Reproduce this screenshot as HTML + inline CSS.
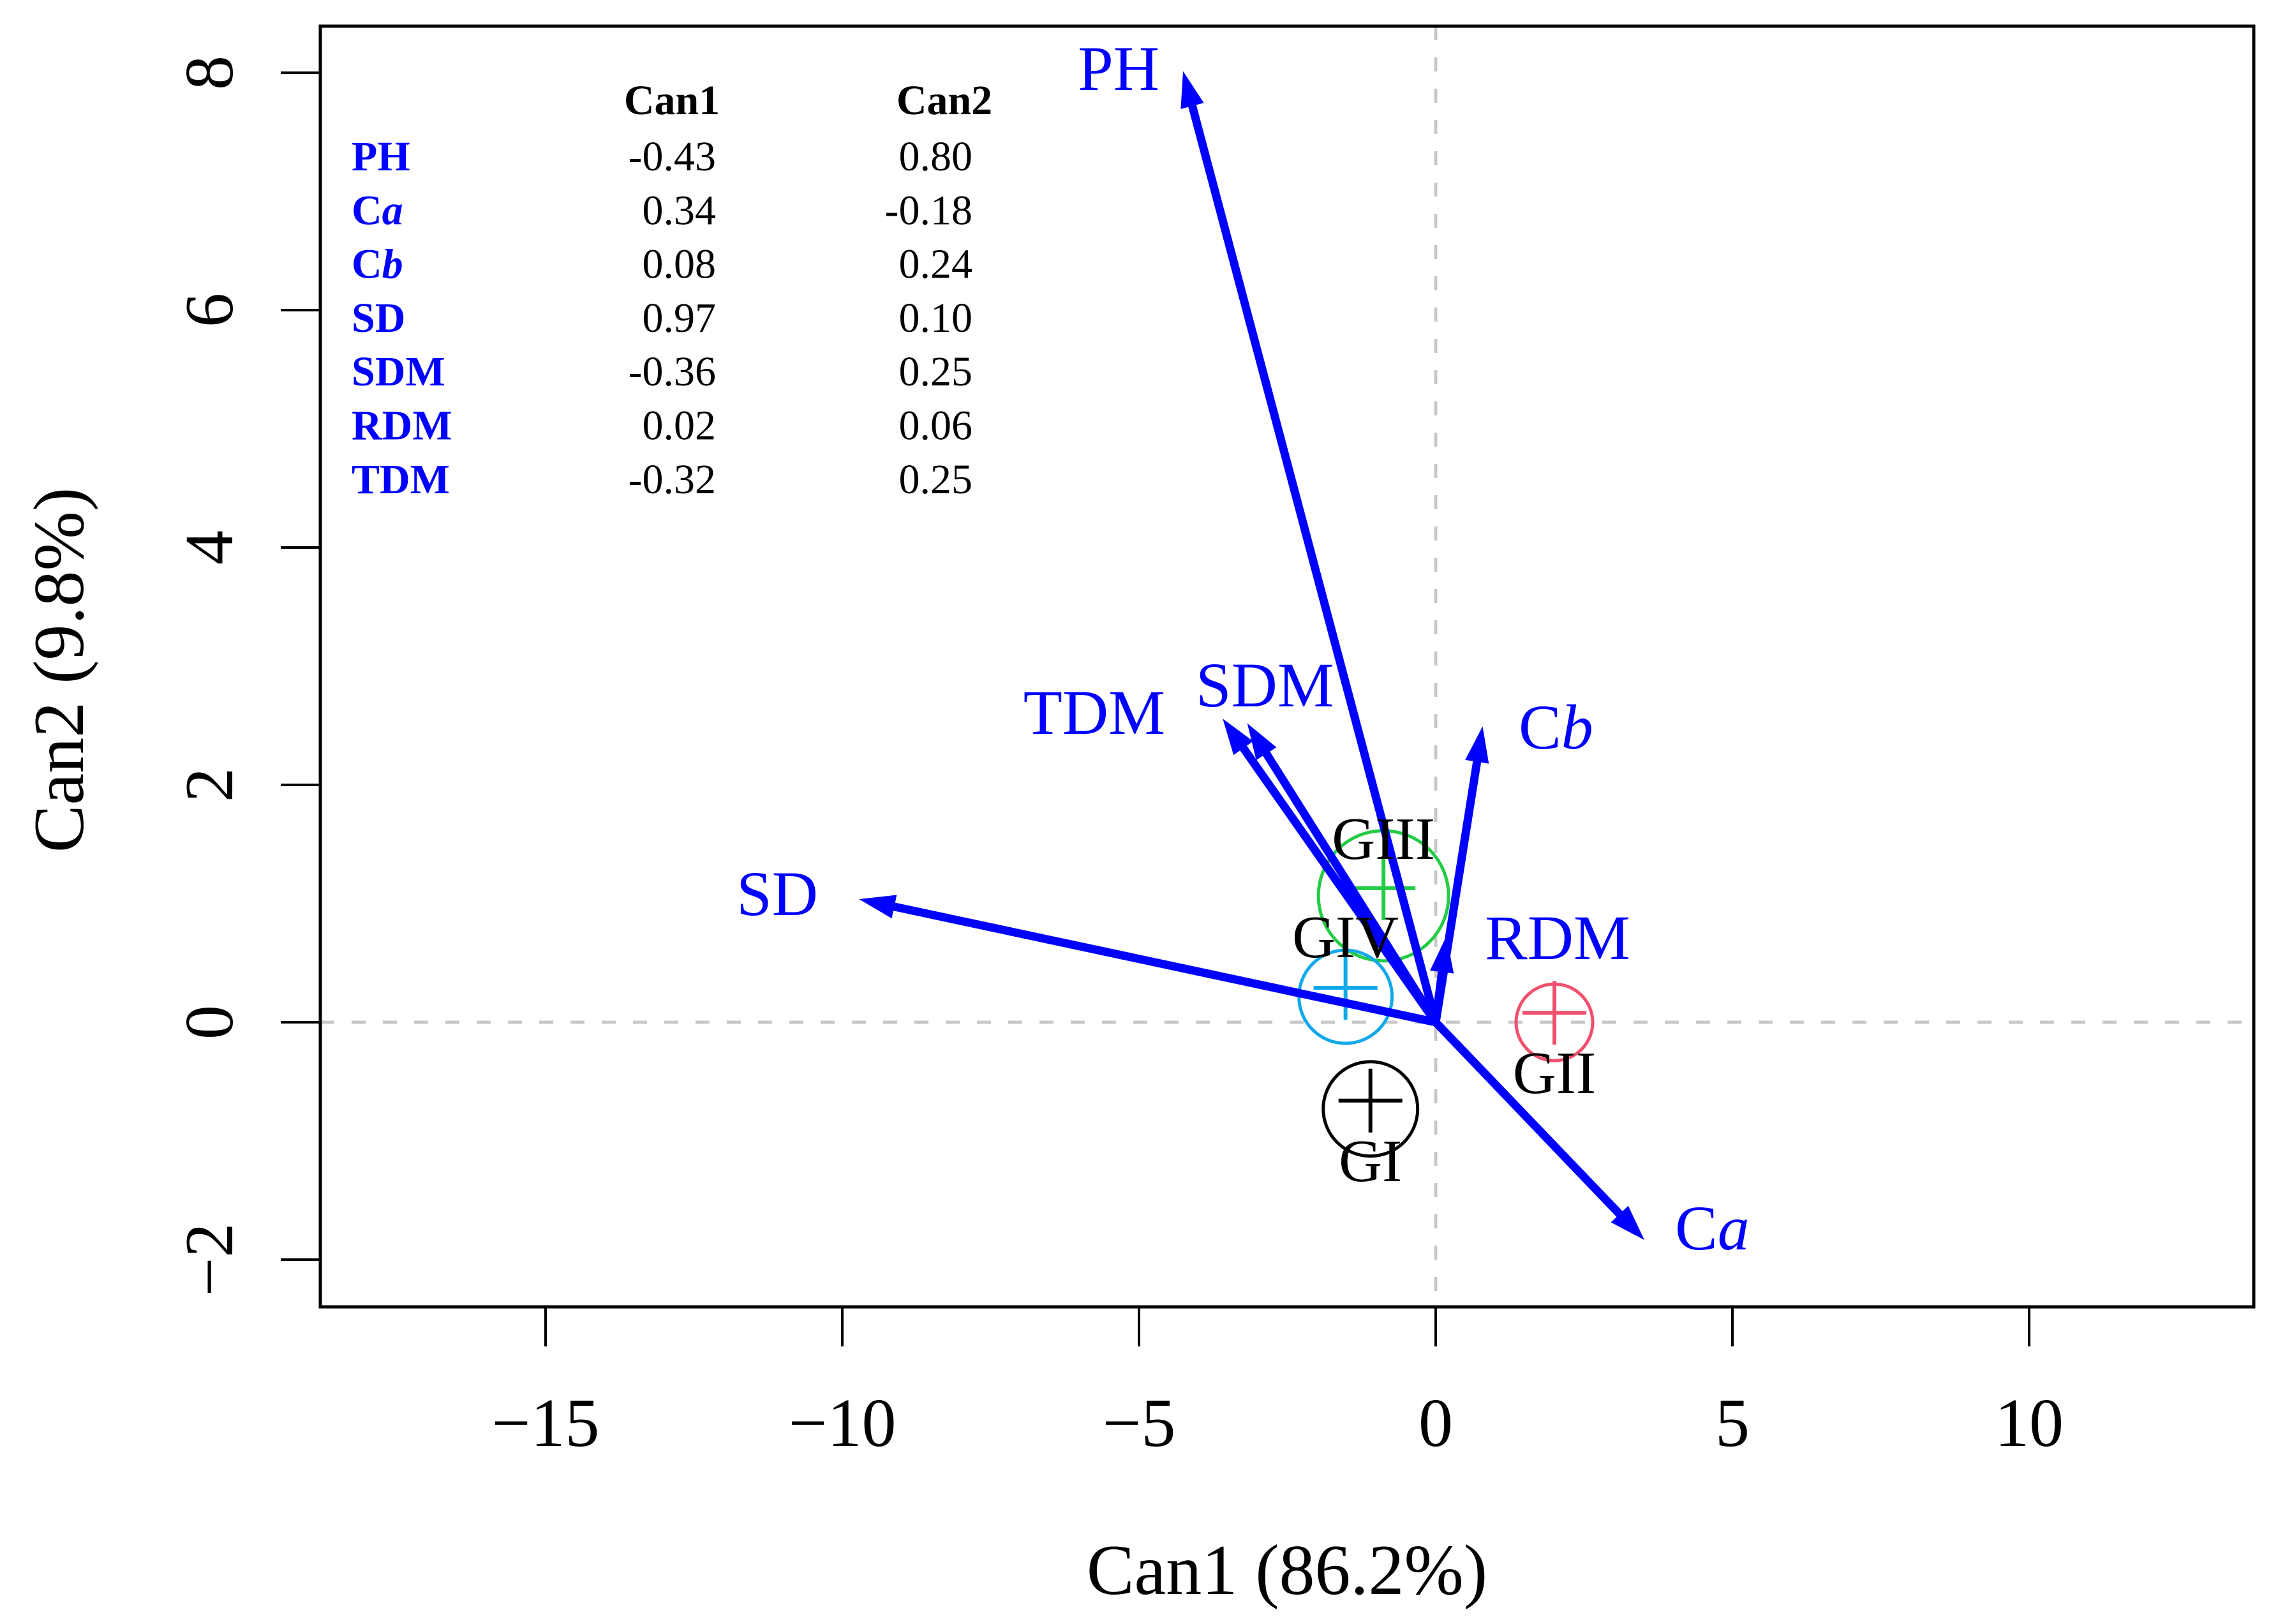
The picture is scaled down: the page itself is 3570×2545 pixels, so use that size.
<!DOCTYPE html>
<html><head><meta charset="utf-8"><style>
html,body{margin:0;padding:0;background:#fff;}
svg{display:block;font-family:"Liberation Serif",serif;}
</style></head><body>
<svg id="chart" xmlns="http://www.w3.org/2000/svg" width="3570" height="2545" viewBox="0 0 3570 2545">
<rect x="0" y="0" width="3570" height="2545" fill="#fff"/>
<g id="g"></g>
</svg>
<script>
// ---- data ----
const xTicks = [-15, -10, -5, 0, 5, 10];
const yTicks = [-2, 0, 2, 4, 6, 8];
const varNames = ["PH", "Ca", "Cb", "SD", "SDM", "RDM", "TDM"];
const arrowX = [-4.24, 3.47, 0.78, -9.65, -3.14, 0.17, -3.55];
const arrowY = [7.98, -1.81, 2.46, 1.03, 2.49, 0.69, 2.53];
const groupNames = ["GI", "GII", "GIII", "GIV"];
const groupX = [-1.1, 2.0, -0.88, -1.52];
const groupY = [-0.66, 0.08, 1.13, 0.29];
const groupColors = ["#000000", "#f0506e", "#22cc44", "#10a8e8"];
const tableCan1 = ["-0.43", "0.34", "0.08", "0.97", "-0.36", "0.02", "-0.32"];
const tableCan2 = ["0.80", "-0.18", "0.24", "0.10", "0.25", "0.06", "0.25"];

// ---- scales ----
const X0 = 2250, Y0 = 1602, KX = 93, KY = 186;
const sx = v => X0 + v * KX;
const sy = v => Y0 - v * KY;
const NS = "http://www.w3.org/2000/svg";
const g = document.getElementById("g");
function mk(tag, attrs, parent) {
  const e = document.createElementNS(NS, tag);
  for (const k in attrs) e.setAttribute(k, attrs[k]);
  (parent || g).appendChild(e);
  return e;
}
const L = 502, R = 3532, T = 41, B = 2048;

let e = mk("line", {x1: L, x2: R, y1: sy(0), y2: sy(0), stroke: "#c8c8c8", "stroke-width": 5, "stroke-dasharray": "22,27"});


e = mk("line", {x1: sx(0), x2: sx(0), y1: T, y2: B, stroke: "#c8c8c8", "stroke-width": 5, "stroke-dasharray": "22,27"});



e = mk("rect", {x: L, y: T, width: R - L, height: B - T, fill: "none", stroke: "#000", "stroke-width": 5});



xTicks.forEach(t => {
  let l = mk("line", {x1: sx(t), x2: sx(t), y1: B, y2: B + 62, stroke: "#000", "stroke-width": 4});
  
  
  let tx = mk("text", {x: sx(t), y: 2266, "text-anchor": "middle", "font-size": 108});
  tx.textContent = t < 0 ? "\u2212" + Math.abs(t) : String(t);
  
  
});
yTicks.forEach(t => {
  let l = mk("line", {x1: L, x2: L - 62, y1: sy(t), y2: sy(t), stroke: "#000", "stroke-width": 4});
  
  
  let tx = mk("text", {x: 0, y: 0, "text-anchor": "middle", "font-size": 108, transform: `translate(364,${sy(t)}) rotate(-90)`});
  tx.textContent = t < 0 ? "\u2212" + Math.abs(t) : String(t);
  
  
});
e = mk("text", {x: 2017, y: 2498, "text-anchor": "middle", "font-size": 112});
e.textContent = "Can1 (86.2%)";


e = mk("text", {x: 0, y: 0, "text-anchor": "middle", "font-size": 112, transform: "translate(130,1050) rotate(-90)"});
e.textContent = "Can2 (9.8%)";



const circOff = [13, 15, 12, 14];
const circR = [74, 60, 102, 73];
const labelDY = [126, 126, -46, -48];
groupNames.forEach((n, i) => {
  const cx = sx(groupX[i]), cy = sy(groupY[i]);
  let c = mk("circle", {cx: cx, cy: cy + circOff[i], r: circR[i], fill: "none", stroke: groupColors[i], "stroke-width": 5});
  
  
  let p = mk("path", {d: `M${cx - 50},${cy}H${cx + 50}M${cx},${cy - 50}V${cy + 50}`, stroke: groupColors[i], "stroke-width": 6, fill: "none"});
  
  
});

const arrowLabelPos = {
  PH: [1817, 141, "end"], Ca: [2625, 1958, "start"], Cb: [2380, 1173, "start"],
  SD: [1282, 1434, "end"], SDM: [1874, 1107, "start"], RDM: [2327, 1503, "start"], TDM: [1826, 1150, "end"]
};
varNames.forEach((n, i) => {
  const x2 = sx(arrowX[i]), y2 = sy(arrowY[i]);
  const dx = x2 - X0, dy = y2 - Y0, len = Math.hypot(dx, dy);
  const ux = dx / len, uy = dy / len, hl = 48, hw = 16;
  const bx = x2 - ux * hl, by = y2 - uy * hl;
  let l = mk("line", {x1: X0, y1: Y0, x2: bx, y2: by, stroke: "#0000ff", "stroke-width": 13});
  
  
  let h = mk("polygon", {points: `${x2},${y2} ${bx - uy * hw},${by + ux * hw} ${bx + uy * hw},${by - ux * hw}`, fill: "#0000ff", stroke: "#0000ff", "stroke-width": 4});
  
  
  const p = arrowLabelPos[n];
  let t = mk("text", {x: p[0], y: p[1], "text-anchor": p[2], "font-size": 100, fill: "#0000ff"});
  if (n === "Ca" || n === "Cb") {
    t.appendChild(document.createTextNode("C"));
    const s = document.createElementNS(NS, "tspan");
    s.setAttribute("font-style", "italic");
    s.textContent = n[1];
    t.appendChild(s);
  } else t.textContent = n;
  
  
});

groupNames.forEach((n, i) => {
  let t = mk("text", {x: sx(groupX[i]), y: sy(groupY[i]) + labelDY[i], "text-anchor": "middle", "font-size": 94, fill: "#000"});
  t.textContent = n;
  
  
});

let h1 = mk("text", {x: 1053, y: 179, "text-anchor": "middle", "font-size": 66, "font-weight": "bold"});
h1.textContent = "Can1";


let h2 = mk("text", {x: 1480, y: 179, "text-anchor": "middle", "font-size": 66, "font-weight": "bold"});
h2.textContent = "Can2";


varNames.forEach((n, i) => {
  const y = 267 + i * 84.3;
  let t = mk("text", {x: 551, y: y, "font-size": 66, "font-weight": "bold", fill: "#0000ff"});
  if (n === "Ca" || n === "Cb") {
    t.appendChild(document.createTextNode("C"));
    const s = document.createElementNS(NS, "tspan");
    s.setAttribute("font-style", "italic");
    s.textContent = n[1];
    t.appendChild(s);
  } else t.textContent = n;
  
  
  let a = mk("text", {x: 1122, y: y, "text-anchor": "end", "font-size": 66});
  a.textContent = tableCan1[i];
  
  
  let b = mk("text", {x: 1524, y: y, "text-anchor": "end", "font-size": 66});
  b.textContent = tableCan2[i];
  
  
});
</script>
</body></html>
